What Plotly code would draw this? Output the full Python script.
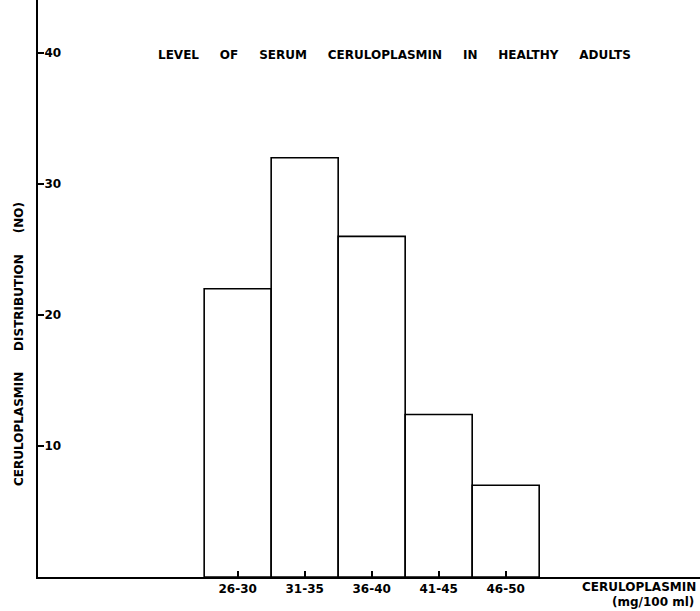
import plotly.graph_objects as go

# Data
bin_labels = ["26-30", "31-35", "36-40", "41-45", "46-50"]
bin_low = [26, 31, 36, 41, 46]
bin_high = [30, 35, 40, 45, 50]
counts = [22, 32, 26, 12.4, 7]
y_ticks = [10, 20, 30, 40]

centers = [(lo + hi) / 2 for lo, hi in zip(bin_low, bin_high)]
widths = [hi - lo + 1 for lo, hi in zip(bin_low, bin_high)]

FONT = "DejaVu Sans"
NB = "\u00a0"

W, H = 700, 611
L, B = 38, 611 - 577
PW = W - L
PH = H - B


def px(page_x):
    return (page_x - L) / PW


def py(page_y):
    return (577 - page_y) / PH


fig = go.Figure()
fig.add_trace(go.Bar(
    x=centers, y=counts, width=widths,
    marker=dict(color="white", line=dict(color="black", width=1.6)),
    hoverinfo="skip",
))

fig.update_layout(
    width=W, height=H,
    margin=dict(l=L, r=0, t=0, b=B, autoexpand=False),
    paper_bgcolor="white", plot_bgcolor="white",
    showlegend=False,
    font=dict(family=FONT, color="black"),
    xaxis=dict(
        range=[13.1, 62.5],
        tickvals=centers, ticktext=bin_labels,
        ticks="inside", ticklen=6, tickwidth=1.5, tickcolor="black",
        tickfont=dict(family=FONT, size=12, weight="bold", color="black"),
        showline=True, linecolor="black", linewidth=2,
        showgrid=False, zeroline=False, automargin=False,
    ),
    yaxis=dict(
        range=[0, 577 / 13.1],
        tickvals=y_ticks,
        ticks="inside", ticklen=6, tickwidth=1.5, tickcolor="black",
        ticklabelposition="inside",
        tickfont=dict(family=FONT, size=12, weight="bold", color="black"),
        showline=True, linecolor="black", linewidth=1.6,
        showgrid=False, zeroline=False, automargin=False,
    ),
    annotations=[
        dict(
            text=(NB * 5).join(["LEVEL", "OF", "SERUM", "CERULOPLASMIN", "IN", "HEALTHY", "ADULTS"]),
            xref="paper", yref="paper", x=px(394), y=py(55),
            xanchor="center", yanchor="middle", showarrow=False,
            font=dict(family=FONT, size=12, weight="bold", color="black"),
        ),
        dict(
            text=(NB * 5).join(["CERULOPLASMIN", "DISTRIBUTION", "(NO)"]),
            xref="paper", yref="paper", x=px(19), y=py(344),
            xanchor="center", yanchor="middle", showarrow=False, textangle=-90,
            font=dict(family=FONT, size=12, weight="bold", color="black"),
        ),
        dict(
            text="CERULOPLASMIN",
            xref="paper", yref="paper", x=px(698), y=py(587),
            xanchor="right", yanchor="middle", showarrow=False,
            font=dict(family=FONT, size=12, weight="bold", color="black"),
        ),
        dict(
            text="(mg/100 ml)",
            xref="paper", yref="paper", x=px(696), y=py(602),
            xanchor="right", yanchor="middle", showarrow=False,
            font=dict(family=FONT, size=12, weight="bold", color="black"),
        ),
    ],
)

fig.write_html(
    "out.html",
    config={"displayModeBar": False},
    post_script="document.body.style.margin='0';document.body.style.overflow='hidden';",
)
